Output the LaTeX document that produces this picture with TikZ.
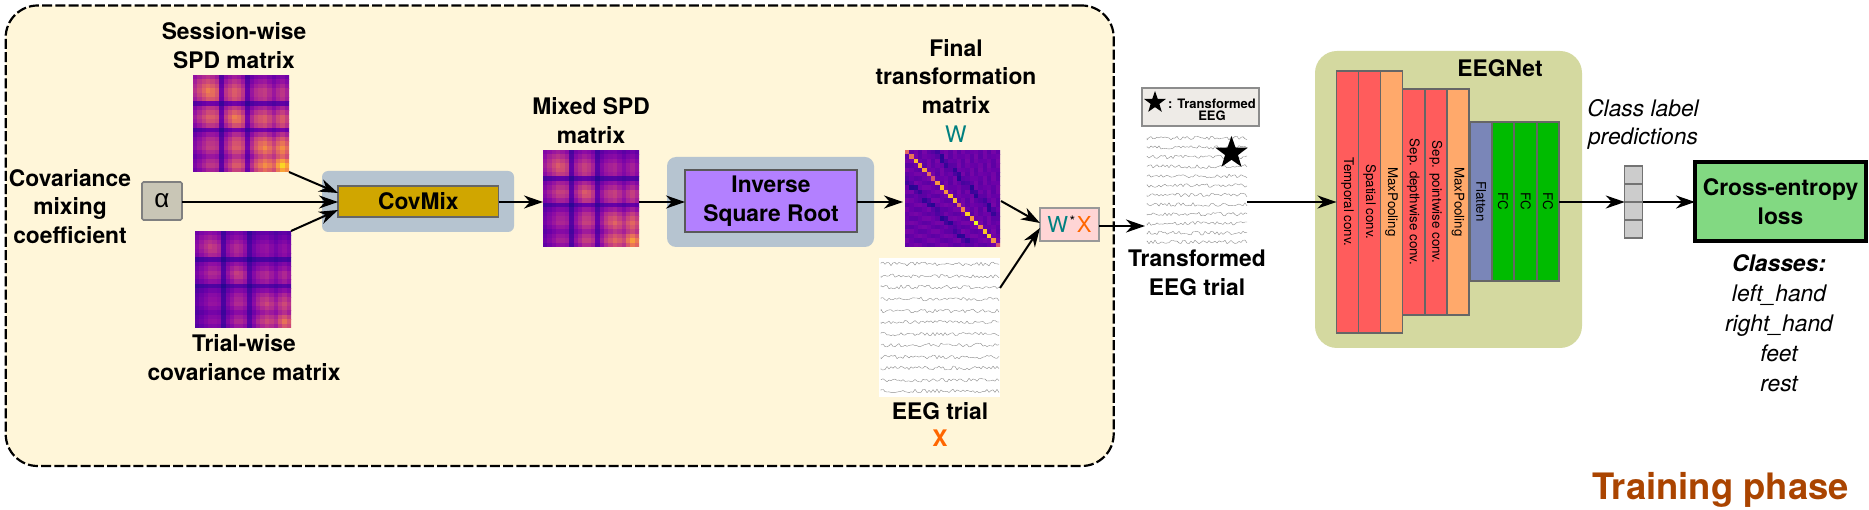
\documentclass[tikz,border=0pt]{standalone}
\usepackage{fontspec}
\usepackage{graphicx}
\setmainfont{TeX Gyre Heros}
\newfontfamily\greekfont{Liberation Sans}
\usetikzlibrary{arrows.meta,shapes.geometric,calc}
\definecolor{framefill}{HTML}{FFF6D9}
\definecolor{slate}{HTML}{B6C4D0}
\definecolor{covgold}{HTML}{D0A600}
\definecolor{invpurple}{HTML}{B380FF}
\definecolor{alphafill}{HTML}{C9C6B6}
\definecolor{prodfill}{HTML}{FFD5D5}
\definecolor{legfill}{HTML}{EEEBE7}
\definecolor{netfill}{HTML}{D4D9A0}
\definecolor{lred}{HTML}{FF5C5C}
\definecolor{lorange}{HTML}{FFA96B}
\definecolor{lblue}{HTML}{7A86B8}
\definecolor{lgreen}{HTML}{00BB00}
\definecolor{lossgreen}{HTML}{82D982}
\definecolor{tealw}{HTML}{008080}
\definecolor{orangex}{HTML}{FF6600}
\definecolor{rust}{HTML}{AA4400}
\newcommand{\lab}{\fontsize{22.8}{28.8}\selectfont}
\def\pR#1{\ifcase#1 13\or 65\or 106\or 143\or 177\or 204\or 225\or 241\or 252\or 252\or 240\else 240\fi}
\def\pG#1{\ifcase#1 8\or 4\or 0\or 13\or 42\or 71\or 100\or 132\or 166\or 206\or 249\else 249\fi}
\def\pB#1{\ifcase#1 135\or 157\or 168\or 164\or 144\or 120\or 98\or 75\or 54\or 37\or 33\else 33\fi}
\def\prof#1{\ifcase#1 .66\or .78\or .88\or .97\or .93\or .84\or .34\or .70\or .84\or .97\or .93\or .80\or .36\or .64\or .82\or .92\or 1.0\or .90\or .78\or .98\or 1.13\or 1.0\fi}
\def\wdiag#1{\ifcase#1 .6\or .65\or .85\or .8\or .78\or .62\or .55\or .75\or .85\or .75\or .85\or .85\or .62\or .7\or .9\or .75\or 1.0\or .7\or .88\or .9\or .75\or .55\fi}
\newcommand{\setcellcol}[1]{%
  \pgfmathsetmacro\ct{max(0,min(.999,#1))*10}%
  \pgfmathtruncatemacro\ck{floor(\ct)}%
  \pgfmathtruncatemacro\cn{\ck+1}%
  \pgfmathsetmacro\cf{\ct-\ck}%
  \pgfmathsetmacro\cR{(\pR{\ck}*(1-\cf)+\pR{\cn}*\cf)/255}%
  \pgfmathsetmacro\cG{(\pG{\ck}*(1-\cf)+\pG{\cn}*\cf)/255}%
  \pgfmathsetmacro\cB{(\pB{\ck}*(1-\cf)+\pB{\cn}*\cf)/255}%
  \definecolor{cellc}{rgb}{\cR,\cG,\cB}%
}
% block heat map: name, x0, y0, x1, y1, gain
\newcommand{\blockmap}[6]{%
  \begin{scope}
    \clip (#2,#3) rectangle (#4,#5);
    \pgfmathsetmacro\dx{(#4-#2)/22}\pgfmathsetmacro\dy{(#5-#3)/22}
    \foreach \ri in {0,...,21}{\foreach \rj in {0,...,21}{
      \pgfmathsetmacro\vv{#6*\prof{\ri}*\prof{\rj}*(1-.55*abs(\ri-\rj)/21)}
      \setcellcol{\vv}
      \fill[cellc] ({#2+\rj*\dx},{#3+\ri*\dy}) rectangle ++({\dx+.5},{\dy+.5});
    }}
  \end{scope}
  \node[imgbox,minimum width={(#4-#2)*1pt},minimum height={(#5-#3)*1pt},anchor=north west] (#1) at (#2,#3) {};
}
\newcommand{\wmap}[5]{%
  \begin{scope}
    \clip (#2,#3) rectangle (#4,#5);
    \pgfmathsetmacro\dx{(#4-#2)/22}\pgfmathsetmacro\dy{(#5-#3)/22}
    \foreach \ri in {0,...,21}{\foreach \rj in {0,...,21}{
      \pgfmathsetmacro\dd{abs(\ri-\rj)}
      \pgfmathsetmacro\ss{sin((\ri+\rj)*131+\dd*73)}
      \ifnum\ri=\rj\relax
        \pgfmathsetmacro\vv{\wdiag{\ri}}
      \else
        \pgfmathsetmacro\vv{ifthenelse(\dd==6||\dd==7,.11+.06*\ss,.2+.035*\ss)}
      \fi
      \setcellcol{\vv}
      \fill[cellc] ({#2+\rj*\dx},{#3+\ri*\dy}) rectangle ++({\dx+.5},{\dy+.5});
    }}
  \end{scope}
  \node[imgbox,minimum width={(#4-#2)*1pt},minimum height={(#5-#3)*1pt},anchor=north west] (#1) at (#2,#3) {};
}
% wiggly trace: x0, x1, y
\newcommand{\trace}[3]{%
  \draw[eegline] (#1,#3)
    \foreach \px in {#1,\the\numexpr#1+2\relax,...,#2}{ -- (\px,{#3+1.9*rand}) };
}
\tikzset{
  x=1pt,y=-1pt,
  imgbox/.style={inner sep=0,outer sep=0,draw=none},
  label text/.style={font=\lab\bfseries,align=center,inner sep=0},
  flow/.style={line width=2pt,-{Stealth[length=19pt,width=13pt,inset=6pt]}},
  eegline/.style={line width=.4pt,draw=black!45,line join=round},
  layer/.style={draw=black!60,line width=1.5pt,inner sep=0,outer sep=0,minimum width=22pt,font=\fontsize{13.3}{15}\selectfont},
  cell/.style={draw=black!55,line width=1.2pt,fill=black!20,inner sep=0,outer sep=0,minimum width=18pt,minimum height=18pt},
}
\newcommand{\vtext}[1]{\rotatebox{-90}{#1}}
\begin{document}
\begin{tikzpicture}
\useasboundingbox (0,0) rectangle (1869,510);
\fill[white] (0,0) rectangle (1869,510);
% frame
\node[draw=black,fill=framefill,line width=2.2pt,dash pattern=on 10pt off 3.2pt,rounded corners=32pt,inner sep=0,outer sep=0,
  minimum width=1108pt,minimum height=460.5pt,anchor=north west] (frame) at (5.7,5.5) {};
% backgrounds
\node[fill=slate,rounded corners=6pt,inner sep=0,outer sep=0,minimum width=192pt,minimum height=61pt,anchor=north west] (covbg) at (322,171) {};
\node[fill=slate,rounded corners=9pt,inner sep=0,outer sep=0,minimum width=207pt,minimum height=90pt,anchor=north west] (invbg) at (667,157) {};
\node[fill=netfill,rounded corners=22pt,inner sep=0,outer sep=0,minimum width=267pt,minimum height=297pt,anchor=north west] (netbg) at (1315,51) {};
% matrices
\blockmap{sess}{193}{75}{289}{172}{.72}
\blockmap{tri}{195}{231}{291}{328}{.5}
\blockmap{mixed}{543}{150}{639}{247}{.6}
\wmap{wmat}{905}{150}{1000}{247}
% boxes
\node[draw=black!50,fill=alphafill,line width=1.6pt,rounded corners=1.5pt,inner sep=0,outer sep=0,minimum width=40pt,minimum height=38pt,font=\fontsize{26}{26}\selectfont\greekfont] (alpha) at (162,201) {α};
\node[draw=black!60,fill=covgold,line width=1.4pt,inner sep=0,outer sep=0,minimum width=160.5pt,minimum height=31pt,label text] (covmix) at (418.3,201.5) {CovMix};
\node[draw=black!65,fill=invpurple,line width=1.6pt,inner sep=0,outer sep=0,minimum width=172pt,minimum height=62pt,label text] (inv) at (771,201) {Inverse\\Square Root};
\node[draw=black!40,fill=prodfill,line width=1.2pt,inner sep=0,outer sep=0,minimum width=59pt,minimum height=33pt,font=\fontsize{22}{22}\selectfont] (prod) at (1069.5,224.5) {\textcolor{tealw}{W}\kern1.5pt\raisebox{6pt}{\fontsize{14.5}{14}\selectfont *}\kern1.5pt\textcolor{orangex}{X}};
% EEG trial
\node[fill=white,inner sep=0,outer sep=0,minimum width=121pt,minimum height=139pt,anchor=north west] (eeg) at (879,258) {};
\pgfmathsetseed{17}
\foreach \ty in {264,276,287,299,311,322,334,345,357,368,380,391}{\trace{881}{999}{\ty}}
% transformed EEG
\node[fill=white,inner sep=0,outer sep=0,minimum width=104pt,minimum height=110pt,anchor=north west] (trans) at (1145,135) {};
\foreach \ty in {138,147.5,157,166.5,176,185.5,195,204.5,214,223.5,233,242}{\trace{1147}{1247}{\ty}}
\node[star,star points=5,star point ratio=2.5,fill=black,inner sep=0,minimum size=34pt] (bigstar) at (1231.5,153) {};
\node[draw=black!45,fill=legfill,line width=1.2pt,inner sep=0,outer sep=0,minimum width=117pt,minimum height=38pt] (legend) at (1200.5,107) {};
\node[star,star points=5,star point ratio=2.5,fill=black,inner sep=0,minimum size=23pt] (smallstar) at (1155,102.5) {};
\node[font=\fontsize{13}{12.5}\selectfont\bfseries,align=center,inner sep=0] (legtext) at (1212,110) {: Transformed\\EEG};
% EEGNet layers
\node[layer,fill=lred,minimum height=262pt] (l1) at (1347.5,202) {\vtext{Temporal conv.}};
\node[layer,fill=lred,minimum height=262pt] (l2) at (1369.7,202) {\vtext{Spatial conv.}};
\node[layer,fill=lorange,minimum height=262pt] (l3) at (1391.6,202) {\vtext{MaxPooling}};
\node[layer,fill=lred,minimum height=226pt] (l4) at (1413.5,202) {\vtext{Sep. depthwise conv.}};
\node[layer,fill=lred,minimum height=226pt] (l5) at (1436,202) {\vtext{Sep. pointwise conv.}};
\node[layer,fill=lorange,minimum height=226pt] (l6) at (1458,202) {\vtext{MaxPooling}};
\node[layer,fill=lblue,minimum height=159pt] (l7) at (1481,201.5) {\vtext{Flatten}};
\node[layer,fill=lgreen,minimum height=159pt] (l8) at (1503,201.5) {\vtext{FC}};
\node[layer,fill=lgreen,minimum height=159pt] (l9) at (1525.6,201.5) {\vtext{FC}};
\node[layer,fill=lgreen,minimum height=159pt] (l10) at (1548,201.5) {\vtext{FC}};
% output vector
\node[cell] (v1) at (1633.8,175) {};
\node[cell] (v2) at (1633.8,193) {};
\node[cell] (v3) at (1633.8,211) {};
\node[cell] (v4) at (1633.8,229) {};
% loss
\node[draw=black,fill=lossgreen,line width=3.5pt,inner sep=0,outer sep=0,minimum width=171pt,minimum height=79pt,label text] (loss) at (1780.5,201.5) {Cross-entropy\\loss};
% labels
\node[label text] (tsess) at (234,46) {Session-wise\\SPD matrix};
\node[label text] (tcov) at (70,206.5) {Covariance\\mixing\\coefficient};
\node[label text] (ttri) at (244,358) {Trial-wise\\covariance matrix};
\node[label text] (tmixed) at (591,121) {Mixed SPD\\matrix};
\node[label text] (tfinal) at (956,76.5) {Final\\transformation\\matrix};
\node[font=\fontsize{22.8}{24}\selectfont,text=tealw,inner sep=0] (tw) at (956,134) {W};
\node[label text] (teeg) at (940,411) {EEG trial};
\node[font=\fontsize{22.8}{24}\selectfont\bfseries,text=orangex,inner sep=0] (tx) at (940,438.5) {X};
\node[label text] (ttrans) at (1197,272.5) {Transformed\\EEG trial};
\node[label text] (tnet) at (1500,68) {EEGNet};
\node[font=\lab\itshape,align=center,inner sep=0] (tpred) at (1643,124.5) {Class label\\predictions};
\node[font=\lab\itshape,align=center,inner sep=0] (tclasses) at (1779,323) {\textbf{Classes:}\\[1.1pt]left\_hand\\[1.1pt]right\_hand\\[1.1pt]feet\\[1.1pt]rest};
\node[font=\fontsize{36.4}{38}\selectfont\bfseries,text=rust,inner sep=0] (tphase) at (1720.5,490) {Training phase};
% connectors
\draw[flow] (sess.south east) -- ($(covmix.west)+(0,-8.5)$);
\draw[flow] (alpha.east |- 0,202) -- (covmix.west |- 0,202);
\draw[flow] (tri.north east) -- ($(covmix.west)+(0,8.5)$);
\draw[flow] (covmix.east |- 0,202) -- (mixed.west |- 0,202);
\draw[flow] (mixed.east |- 0,202) -- (inv.west |- 0,202);
\draw[flow] (inv.east |- 0,202) -- ($(wmat.west |- 0,202)+(-2,0)$);
\draw[flow] ($(wmat.east)+(1,2.5)$) -- ($(prod.west)+(0,-1.5)$);
\draw[flow] (eeg.east |- 0,288) -- ($(prod.west)+(0,3.5)$);
\draw[flow] (prod.east |- 0,226) -- (trans.west |- 0,226);
\draw[flow] (1247,202) -- (l1.west |- 0,202);
\draw[flow] (l10.east |- 0,202) -- (v2.west |- 0,202);
\draw[flow] (v2.east |- 0,202) -- (loss.west |- 0,202);
\end{tikzpicture}
\end{document}
